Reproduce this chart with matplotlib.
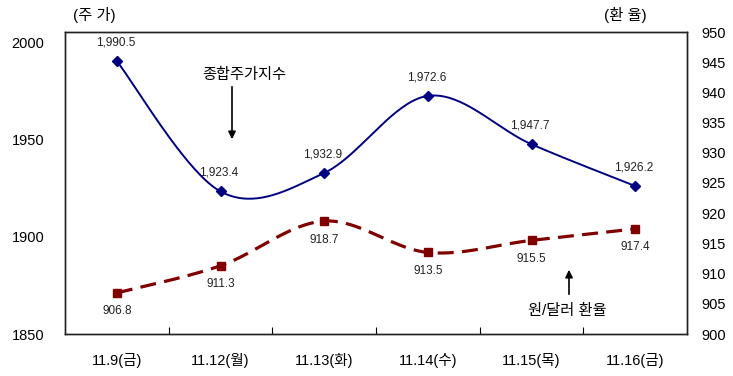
import numpy as np
import matplotlib
matplotlib.use("Agg")
import matplotlib.pyplot as plt

plt.rcParams['font.family'] = ['Liberation Sans', 'Noto Sans CJK KR']

categories = ['11.9(금)', '11.12(월)', '11.13(화)', '11.14(수)', '11.15(목)', '11.16(금)']
kospi = [1990.5, 1923.4, 1932.9, 1972.6, 1947.7, 1926.2]
krw = [906.8, 911.3, 918.7, 913.5, 915.5, 917.4]
kospi_labels = ['1,990.5', '1,923.4', '1,932.9', '1,972.6', '1,947.7', '1,926.2']
krw_labels = ['906.8', '911.3', '918.7', '913.5', '915.5', '917.4']
left_ticks = [1850, 1900, 1950, 2000]
right_ticks = [900, 905, 910, 915, 920, 925, 930, 935, 940, 945, 950]


def smooth(x, y, n=40):
    x = np.asarray(x, float); y = np.asarray(y, float)
    px = np.concatenate([[x[0]], x, [x[-1]]])
    py = np.concatenate([[y[0]], y, [y[-1]]])
    xs, ys = [], []
    for i in range(1, len(px) - 2):
        p0, p1, p2, p3 = [np.array([px[j], py[j]]) for j in (i - 1, i, i + 1, i + 2)]
        c1 = p1 + (p2 - p0) / 6.0
        c2 = p2 - (p3 - p1) / 6.0
        t = np.linspace(0, 1, n)[:, None]
        b = ((1 - t) ** 3) * p1 + 3 * ((1 - t) ** 2) * t * c1 + 3 * (1 - t) * t ** 2 * c2 + t ** 3 * p2
        xs.append(b[:, 0]); ys.append(b[:, 1])
    return np.concatenate(xs), np.concatenate(ys)


fig = plt.figure(figsize=(7.33, 3.76), dpi=100)
ax = fig.add_axes([65 / 733, 1 - 334 / 376, 622 / 733, 302 / 376])
ax2 = ax.twinx()

x = np.arange(len(categories))
blue = '#000080'
red = '#800000'

sx, sy = smooth(x, kospi)
ax.plot(sx, sy, color=blue, lw=1.4, zorder=3)
ax.plot(x, kospi, ls='none', marker='D', ms=5, color=blue, zorder=4)

rx, ry = smooth(x, krw)
ax2.plot(rx, ry, color=red, lw=2.3, dashes=(5, 2.6), zorder=3)
ax2.plot(x, krw, ls='none', marker='s', ms=6, color=red, zorder=4)

ax.set_xlim(-0.5, len(categories) - 0.5)
ax.set_ylim(1850, 2005.5)
ax2.set_ylim(900, 950)
ax.set_yticks(left_ticks)
ax2.set_yticks(right_ticks)
ax.set_xticks(x)
ax.set_xticklabels(categories, fontsize=10.5)
ax.tick_params(axis='x', length=0, pad=14)
ax.set_xticks(np.arange(0.5, len(categories) - 1, 1), minor=True)
ax.tick_params(axis='x', which='minor', direction='in', length=5, width=0.8)
ax.tick_params(axis='y', length=0, labelsize=10.5, pad=15)
ax2.tick_params(axis='y', length=0, labelsize=10.5, pad=10)

for a in (ax, ax2):
    for s in a.spines.values():
        s.set_linewidth(1.0)
        s.set_color('#222222')

for xi, yi, lab in zip(x, kospi, kospi_labels):
    ax.annotate(lab, (xi, yi), xytext=(-1, 9), textcoords='offset points',
                ha='center', va='bottom', fontsize=8.5, color='#222222')
for xi, yi, lab in zip(x, krw, krw_labels):
    ax2.annotate(lab, (xi, yi), xytext=(0, -9), textcoords='offset points',
                 ha='center', va='top', fontsize=8.5, color='#222222')

fig.text(94 / 733, 1 - 15 / 376, '(주 가)', ha='center', va='center', fontsize=11)
fig.text(625 / 733, 1 - 15 / 376, '(환 율)', ha='center', va='center', fontsize=11)

fig.text(244 / 733, 1 - 75 / 376, '종합주가지수', ha='center', va='center', fontsize=11)
ax.annotate('', xy=(232 / 733, 1 - 142 / 376), xytext=(232 / 733, 1 - 84 / 376),
            xycoords='figure fraction', textcoords='figure fraction',
            arrowprops=dict(arrowstyle='-|>', color='black', lw=1.2, mutation_scale=11))
fig.text(567 / 733, 1 - 311 / 376, '원/달러 환율', ha='center', va='center', fontsize=11)
ax.annotate('', xy=(569 / 733, 1 - 267 / 376), xytext=(569 / 733, 1 - 297 / 376),
            xycoords='figure fraction', textcoords='figure fraction',
            arrowprops=dict(arrowstyle='-|>', color='black', lw=1.2, mutation_scale=11))

fig.savefig('out.png', dpi=100)
